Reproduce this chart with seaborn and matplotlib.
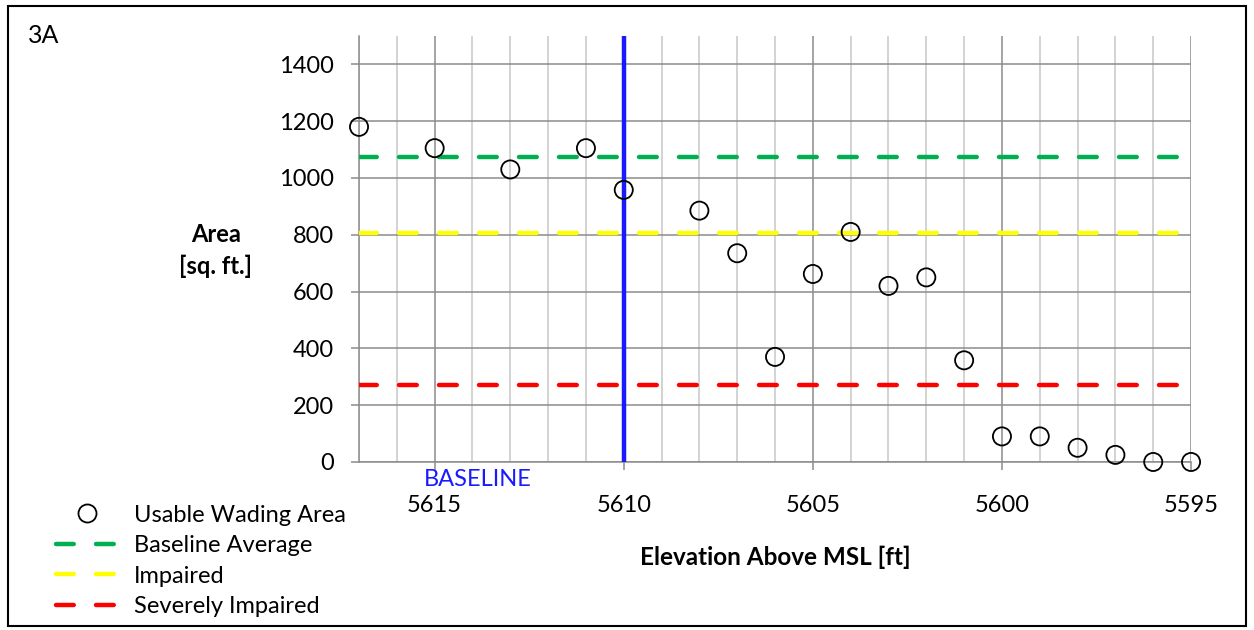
import matplotlib
matplotlib.use('Agg')
import matplotlib.pyplot as plt
import matplotlib.transforms as mtransforms
from matplotlib.lines import Line2D
from matplotlib.patches import Rectangle
import seaborn as sns
import pandas as pd

# Дані
elevation = [5617, 5615, 5613, 5611, 5610, 5608, 5607, 5606, 5605, 5604,
             5603, 5602, 5601, 5600, 5599, 5598, 5597, 5596, 5595]
wading_area = [1180, 1105, 1030, 1105, 958, 885, 735, 370, 662, 810,
               620, 650, 358, 90, 90, 50, 25, 0, 0]
threshold_names = ['Baseline Average', 'Impaired', 'Severely Impaired']
threshold_values = [1075, 808, 270]
threshold_colors = ['#00b050', '#ffff00', '#ff0000']
baseline_elev = 5610
x_ticks = [5615, 5610, 5605, 5600, 5595]
y_ticks = [0, 200, 400, 600, 800, 1000, 1200, 1400]

sns.set_theme(style="white")
plt.rcParams['font.family'] = ['Lato', 'DejaVu Sans']
plt.rcParams['text.color'] = 'black'
plt.rcParams['axes.labelcolor'] = 'black'

df = pd.DataFrame({'elevation': elevation, 'area': wading_area})

fig = plt.figure(figsize=(12.54, 6.3), dpi=100)
ax = fig.add_axes([0.2863, 0.2667, 0.9498 - 0.2863, 0.9429 - 0.2667])

blue = '#1a1aff'
dash = (4.0, 5.0)
dash_lw = 3.2
fs = 17

for name, val, col in zip(threshold_names, threshold_values, threshold_colors):
    ax.axhline(val, color=col, lw=dash_lw, linestyle=(0, dash),
               dash_capstyle='round', zorder=3)

ax.axvline(baseline_elev, color=blue, lw=3.2, zorder=4)

sns.scatterplot(data=df, x='elevation', y='area', ax=ax, marker='o', s=170,
                facecolor='none', edgecolor='black', linewidth=1.3,
                zorder=5, clip_on=False, legend=False)

ax.set_xlim(5617, 5595)
ax.set_ylim(0, 1500)
ax.set_xticks(x_ticks)
ax.set_xticks(range(5595, 5618), minor=True)
ax.set_yticks(y_ticks)

ax.grid(which='minor', axis='x', color='#c8c8c8', lw=1.1, zorder=0)
ax.grid(which='major', axis='x', color='#8c8c8c', lw=1.1, zorder=0)
ax.grid(which='major', axis='y', color='#8c8c8c', lw=1.1, zorder=0)
ax.set_axisbelow(True)

for s in ['top', 'right']:
    ax.spines[s].set_visible(False)
for s in ['left', 'bottom']:
    ax.spines[s].set_color('#8c8c8c')
    ax.spines[s].set_linewidth(1.1)

ax.tick_params(axis='both', which='major', direction='out', length=6,
               width=1.1, color='#8c8c8c', labelsize=fs, labelcolor='black')
ax.tick_params(axis='x', which='major', pad=18, bottom=True)
ax.tick_params(axis='y', which='major', pad=12, left=True)
ax.tick_params(axis='x', which='minor', length=0)

ax.set_xlabel('')
ax.set_ylabel('')

fig.text(0.1722, 0.602, 'Area\n[sq. ft.]', ha='center', va='center',
         fontsize=fs, fontweight='bold', linespacing=1.45)
fig.text(0.618, 0.116, 'Elevation Above MSL [ft]', ha='center', va='center',
         fontsize=fs + 0.5, fontweight='bold')
fig.text(0.022, 0.943, '3A', ha='left', va='center', fontsize=fs + 1)

trans = mtransforms.blended_transform_factory(ax.transData, ax.transAxes)
ax.text(5613.85, -0.04, 'BASELINE', transform=trans, ha='center', va='center',
        color=blue, fontsize=fs)

handles = [Line2D([], [], marker='o', linestyle='none', markersize=13,
                  markerfacecolor='none', markeredgecolor='black',
                  markeredgewidth=1.3)]
for col in threshold_colors:
    handles.append(Line2D([], [], color=col, lw=dash_lw, linestyle=(0, dash),
                          dash_capstyle='round'))
fig.legend(handles, ['Usable Wading Area'] + threshold_names,
           loc='upper left', bbox_to_anchor=(0.045, 0.199), frameon=False,
           fontsize=fs, handlelength=2.6, handletextpad=0.7,
           labelspacing=0.4, borderpad=0, borderaxespad=0)

fig.add_artist(Rectangle((0.0065, 0.006), 0.987, 0.984,
                         transform=fig.transFigure, fill=False,
                         edgecolor='black', lw=1.5))

fig.savefig('out.png', dpi=100)
